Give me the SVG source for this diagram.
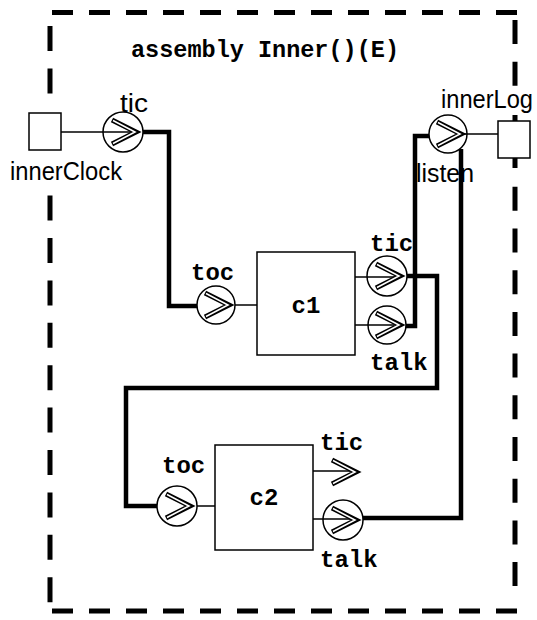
<svg xmlns="http://www.w3.org/2000/svg" xmlns:xlink="http://www.w3.org/1999/xlink" width="537" height="620" viewBox="0 0 537 620">
<style>
.border{stroke:#000;stroke-width:5;fill:none}
.box{fill:#fff;stroke:#000;stroke-width:1.5}
.port{fill:none;stroke:#000;stroke-width:1.5}
.thin{fill:none;stroke:#000;stroke-width:1.5}
.thick{fill:none;stroke:#000;stroke-width:4.5;stroke-linejoin:miter}
.mono{font-family:"Liberation Mono","Courier New",monospace;font-weight:bold;font-size:24px;fill:#000}
.title{font-family:"Liberation Mono","Courier New",monospace;font-weight:bold;font-size:24px;fill:#000}
.sans{font-family:"Liberation Sans",Arial,sans-serif;font-size:25px;fill:#000}
</style>
<defs>
<g id="chev">
<path d="M-24,-12 L0,0 L-24,12" fill="none" stroke="#000" stroke-width="5"/>
<path d="M-23,-11.5 L-1,0 L-23,11.5" fill="none" stroke="#fff" stroke-width="1.6"/>
</g>
</defs>
<rect width="537" height="620" fill="#fff"/>
<g id="frame">
<path class="border" d="M52,12.5h21M89,12.5h21M126,12.5h21M163,12.5h21M200,12.5h21M237,12.5h21M274,12.5h21M311,12.5h21M348,12.5h21M385,12.5h21M422,12.5h21M459,12.5h21M496,12.5h21"/>
<path class="border" d="M52,611h21M89,611h21M126,611h21M163,611h21M200,611h21M237,611h21M274,611h21M311,611h21M348,611h21M385,611h21M422,611h21M459,611h21M496,611h21"/>
<path class="border" d="M50,26v25M50,68.4v25M50,195.6v25M50,238v25M50,280.4v25M50,322.8v25M50,365.2v25M50,407.6v25M50,450v25M50,492.4v25M50,534.8v25M50,577.2v25"/>
<path class="border" d="M515,20v24M515,61.7v24M515,115v12M515,150v18M515,186.8v24M515,228.5v24M515,270.2v24M515,311.9v24M515,353.6v24M515,395.3v24M515,437v24M515,478.7v24M515,520.4v24M515,562.1v24"/>
<text class="title" x="131" y="57" textLength="268" lengthAdjust="spacingAndGlyphs">assembly Inner()(E)</text>
</g>
<g id="connectors">
<path class="thin" d="M61,132H133"/>
<path class="thick" d="M143,132H169V306H197"/>
<path class="thin" d="M235,305H257"/>
<path class="thin" d="M355,277H395"/>
<path class="thin" d="M355,325H394"/>
<path class="thick" d="M407,276H437V388H126V506H157"/>
<path class="thick" d="M406,326H415V136H429"/>
<path class="thin" d="M458,134H498"/>
<path class="thick" d="M461,149V518H363"/>
<path class="thin" d="M197,506H215"/>
<path class="thin" d="M313,471H350"/>
<path class="thin" d="M313,519H353"/>
</g>
<g id="innerClock">
<rect class="box" x="29" y="113" width="32" height="37"/>
<text class="sans" x="10" y="180" textLength="112" lengthAdjust="spacingAndGlyphs">innerClock</text>
</g>
<g id="port-tic">
<circle class="port" cx="123" cy="132" r="20"/>
<use xlink:href="#chev" x="136" y="132"/>
<text class="sans" x="120" y="112" textLength="28" lengthAdjust="spacingAndGlyphs">tic</text>
</g>
<g id="innerLog">
<rect class="box" x="498" y="121" width="32" height="37"/>
<text class="sans" x="441" y="108" textLength="92" lengthAdjust="spacingAndGlyphs">innerLog</text>
</g>
<g id="port-listen">
<circle class="port" cx="448" cy="134" r="19"/>
<use xlink:href="#chev" x="461" y="134"/>
<text class="sans" x="416" y="182" textLength="58" lengthAdjust="spacingAndGlyphs">listen</text>
</g>
<g id="c1">
<rect class="box" x="257" y="252" width="98" height="103"/>
<text class="mono" x="306" y="313" text-anchor="middle">c1</text>
</g>
<g id="c1-toc">
<circle class="port" cx="216" cy="305" r="19"/>
<use xlink:href="#chev" x="229" y="305"/>
<text class="mono" x="191" y="280">toc</text>
</g>
<g id="c1-tic">
<circle class="port" cx="387" cy="276" r="20"/>
<use xlink:href="#chev" x="400" y="276"/>
<text class="mono" x="370" y="251">tic</text>
</g>
<g id="c1-talk">
<circle class="port" cx="387" cy="325" r="19"/>
<use xlink:href="#chev" x="400" y="325"/>
<text class="mono" x="370" y="370">talk</text>
</g>
<g id="c2">
<rect class="box" x="215" y="445" width="98" height="105"/>
<text class="mono" x="264" y="505" text-anchor="middle">c2</text>
</g>
<g id="c2-toc">
<circle class="port" cx="177" cy="506" r="20"/>
<use xlink:href="#chev" x="190" y="506"/>
<text class="mono" x="162" y="473">toc</text>
</g>
<g id="c2-tic">
<use xlink:href="#chev" x="356" y="472"/>
<text class="mono" x="320" y="450">tic</text>
</g>
<g id="c2-talk">
<circle class="port" cx="343" cy="520" r="20"/>
<use xlink:href="#chev" x="356" y="520"/>
<text class="mono" x="320" y="567">talk</text>
</g>
</svg>
